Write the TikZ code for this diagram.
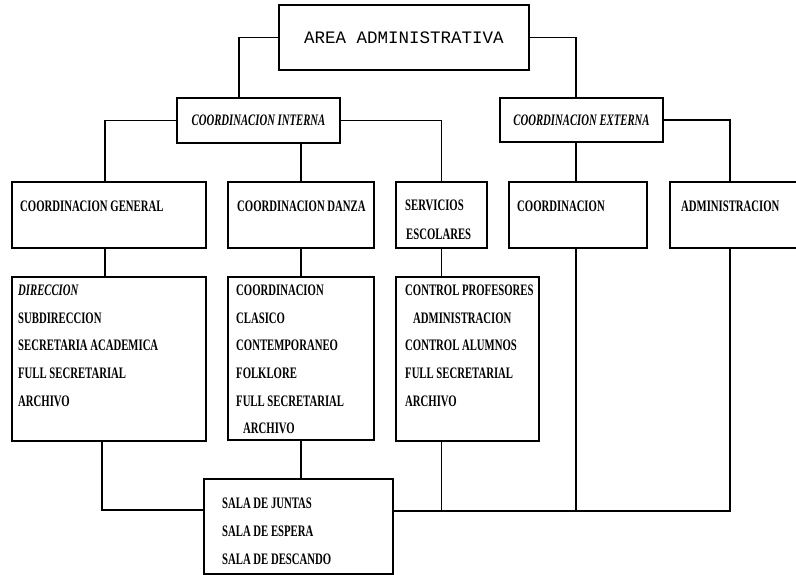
\documentclass[tikz,border=0pt]{standalone}
\usepackage{fontspec}
\setmainfont{Liberation Serif}
\newfontfamily\orgfont[FakeStretch=0.67]{Liberation Serif}
\newfontfamily\areafont{Liberation Mono}
\usetikzlibrary{positioning}

\tikzset{
	box/.style={draw, line width=1.5pt, anchor=north west, inner sep=0pt, outer sep=0pt},
	item/.style={anchor=west, inner sep=0pt, text height=11pt, text depth=0pt,
		font=\orgfont\bfseries\fontsize{16}{18}\selectfont},
	link/.style={line width=1.3pt},
}

\begin{document}
\begin{tikzpicture}[x=1pt, y=-1pt]
	\useasboundingbox[fill=white] (0,0) rectangle (796,575);
	
	% top
	\node[box, minimum width=250pt, minimum height=65pt,
		font=\areafont\fontsize{17.5}{20}\selectfont] (area) at (279,5) {AREA ADMINISTRATIVA};
	\node[box, minimum width=163pt, minimum height=45pt,
		font=\orgfont\bfseries\itshape\fontsize{16}{18}\selectfont] (cint) at (177,98) {COORDINACION INTERNA};
	\node[box, minimum width=163pt, minimum height=44pt,
		font=\orgfont\bfseries\itshape\fontsize{16}{18}\selectfont] (cext) at (500,98) {COORDINACION EXTERNA};
	
	% second row
	\node[box, minimum width=194pt, minimum height=66pt] (cgen) at (12,182) {};
	\node[box, minimum width=146pt, minimum height=66pt] (cdan) at (228,182) {};
	\node[box, minimum width=91pt, minimum height=66pt] (serv) at (396,182) {};
	\node[box, minimum width=138pt, minimum height=66pt] (coord) at (509,182) {};
	\node[box, minimum width=140pt, minimum height=66pt] (adm) at (670,182) {};
	
	\node[item] (cgentxt) at (20,206) {COORDINACION GENERAL};
	\node[item] (cdantxt) at (237,206) {COORDINACION DANZA};
	\node[item] (servtxt) at (405,205) {SERVICIOS};
	\node[item] (esctxt) at (406,234) {ESCOLARES};
	\node[item] (coordtxt) at (517,206) {COORDINACION};
	\node[item] (admtxt) at (681,206) {ADMINISTRACION};
	
	% third row
	\node[box, minimum width=194pt, minimum height=164pt] (dir) at (12,277) {};
	\node[box, minimum width=146pt, minimum height=163pt] (dan) at (228,277) {};
	\node[box, minimum width=143pt, minimum height=164pt] (ctrl) at (396,277) {};
	
	\foreach \t [count=\i] in {{\itshape DIRECCION}, SUBDIRECCION, SECRETARIA ACADEMICA,
		FULL SECRETARIAL, ARCHIVO}{
		\node[item] (dir\i) at (18, 262.3+27.7*\i) {\t};
	}
	\foreach \t [count=\i] in {COORDINACION, CLASICO, CONTEMPORANEO, FOLKLORE,
		FULL SECRETARIAL}{
		\node[item] (dan\i) at (236, 262.3+27.7*\i) {\t};
	}
	\node[item] (dan6) at (243,428) {ARCHIVO};
	\foreach \t [count=\i] in {CONTROL PROFESORES, , CONTROL ALUMNOS,
		FULL SECRETARIAL, ARCHIVO}{
		\node[item] (ctrl\i) at (405, 262.3+27.7*\i) {\t};
	}
	\node[item] (ctrladm) at (413,318) {ADMINISTRACION};
	
	% bottom
	\node[box, minimum width=189pt, minimum height=95pt] (sala) at (204,479) {};
	\foreach \t [count=\i] in {SALA DE JUNTAS, SALA DE ESPERA, SALA DE DESCANDO}{
		\node[item] (sala\i) at (222, 475+28*\i) {\t};
	}
	
	% connectors
	\draw[link] (area.west) -| ([xshift=62pt]cint.north west);
	\draw[link] (area.east) -| ([xshift=76pt]cext.north west);
	\draw[link] (cint.west) -| ([xshift=93pt]cgen.north west);
	\draw[link] (cint.east) -| (serv.north);
	\draw[link] (cint.south -| cdan.north) -- (cdan.north);
	\draw[link] ([xshift=76pt]cext.south west) -- ([xshift=67pt]coord.north west);
	\draw[link] (cext.east) -| ([xshift=60pt]adm.north west);
	
	\draw[link] ([xshift=93pt]cgen.south west) -- ([xshift=93pt]dir.north west);
	\draw[link] (cdan.south) -- (dan.north);
	\draw[link] (serv.south) -- (serv.south |- ctrl.north);
	
	\draw[link] ([xshift=90pt]dir.south west) |- ([yshift=-31pt]sala.north west);
	\draw[link] (dan.south) -- (dan.south |- sala.north);
	\coordinate (busR) at ([yshift=-32pt]sala.north east);
	\draw[link] (busR) -| ([xshift=60pt]adm.south west);
	\coordinate (ctrlDrop) at (serv.south |- ctrl.south);
	\draw[link] (ctrlDrop) -- (ctrlDrop |- busR);
	\coordinate (coordDrop) at ([xshift=67pt]coord.south west);
	\draw[link] (coordDrop) -- (coordDrop |- busR);
\end{tikzpicture}
\end{document}
